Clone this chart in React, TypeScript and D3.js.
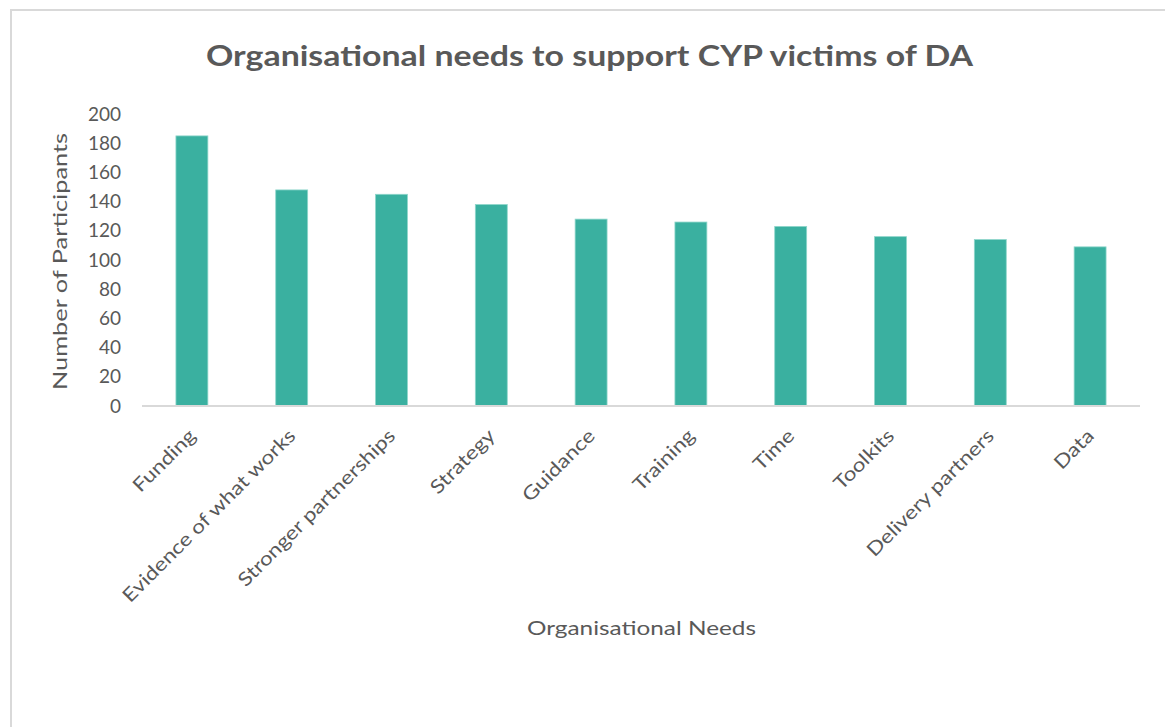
import React from "react";
import * as d3 from "d3";

const categories = [
  "Funding",
  "Evidence of what works",
  "Stronger partnerships",
  "Strategy",
  "Guidance",
  "Training",
  "Time",
  "Toolkits",
  "Delivery partners",
  "Data",
];
const values = [185, 148, 145, 138, 128, 126, 123, 116, 114, 109];
const yTicks = [0, 20, 40, 60, 80, 100, 120, 140, 160, 180, 200];

const W = 1165;
const H = 727;
const FONT = "Lato, 'Open Sans', sans-serif";
const TEXT = "#595959";

export default function App() {
  const x = d3
    .scaleBand<string>()
    .domain(categories)
    .range([142, 1140])
    .paddingInner(0.68)
    .paddingOuter(0.34);
  const y = d3.scaleLinear().domain([0, 200]).range([406, 114]);

  return (
    <svg
      width={W}
      height={H}
      style={{ position: "absolute", left: 0, top: 0, background: "#fff" }}
    >
      <rect x={11} y={10} width={1170} height={740} fill="#fff" stroke="#d9d9d9" strokeWidth={2} />
      <text
        x={206}
        y={66}
        textLength={767}
        lengthAdjust="spacingAndGlyphs"
        fontFamily={FONT}
        fontWeight="bold"
        fontSize={28}
        fill={TEXT}
      >
        Organisational needs to support CYP victims of DA
      </text>

      {yTicks.map((t) => (
        <text
          key={t}
          x={121}
          y={y(t)}
          dy="0.35em"
          textAnchor="end"
          fontFamily={FONT}
          fontSize={19}
          fill={TEXT}
        >
          {t}
        </text>
      ))}

      <text
        transform={`translate(67, 390) rotate(-90)`}
        textLength={257}
        lengthAdjust="spacingAndGlyphs"
        fontFamily={FONT}
        fontSize={20}
        fill={TEXT}
      >
        Number of Participants
      </text>

      {categories.map((c, i) => (
        <rect
          key={c}
          x={x(c)}
          y={y(values[i])}
          width={x.bandwidth()}
          height={y(0) - y(values[i])}
          fill="#3AB0A0"
          stroke="#8fd6cb"
          strokeWidth={0.8}
        />
      ))}

      <line x1={142} x2={1140} y1={y(0)} y2={y(0)} stroke="#d9d9d9" strokeWidth={2} />

      {categories.map((c) => {
        const cx = (x(c) as number) + x.bandwidth() / 2;
        return (
          <text
            key={c}
            transform={`translate(${cx + 5}, 437) rotate(-45) scale(1.19, 1)`}
            textAnchor="end"
            fontFamily={FONT}
            fontSize={19}
            fill={TEXT}
          >
            {c}
          </text>
        );
      })}

      <text
        x={527}
        y={635}
        textLength={229}
        lengthAdjust="spacingAndGlyphs"
        fontFamily={FONT}
        fontSize={20}
        fill={TEXT}
      >
        Organisational Needs
      </text>
    </svg>
  );
}
